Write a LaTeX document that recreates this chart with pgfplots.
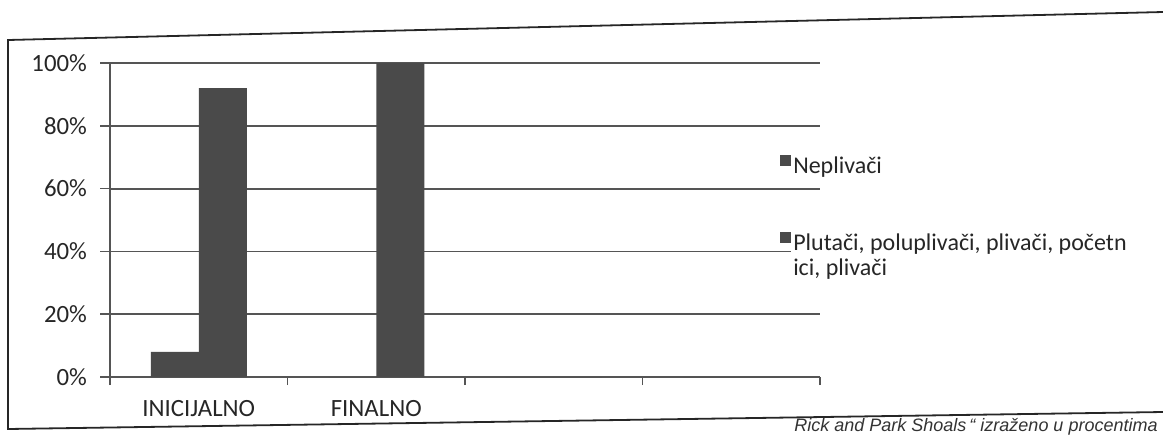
\documentclass[border=0pt]{standalone}
\usepackage{pgfplots}
\pgfplotsset{compat=1.18}
\usepackage{fontspec}
\setmainfont{Carlito}
\newfontfamily\capfont{Liberation Sans}
\definecolor{barc}{HTML}{4A4A4A}
\definecolor{gridc}{HTML}{555555}
\begin{document}
\begin{tikzpicture}[x=1pt,y=1pt]
\useasboundingbox (0,0) rectangle (581.5,218);
% frame (scanned page is slightly tilted)
\draw[line width=0.9pt, black!85] (581.5,212) -- (4,198) -- (4,3.5) -- (581.5,12);
% caption fragment
\node[anchor=base east, font=\capfont\itshape\fontsize{9}{11}\selectfont, text=black!80, inner sep=0pt] at (579,2.3) {Rick and Park Shoals\,“ izraženo u procentima};
\begin{axis}[
  at={(55pt,29.5pt)}, anchor=south west,
  scale only axis, width=355pt, height=157pt,
  xmin=-0.5, xmax=3.5, ymin=0, ymax=100,
  ybar=0pt, bar width=24pt,
  axis x line*=bottom, axis y line*=left,
  axis line style={-, gridc, line width=0.8pt},
  xtick={0,1}, xticklabels={INICIJALNO,FINALNO},
  major x tick style={draw=none},
  minor xtick={-0.5,0.5,1.5,2.5,3.5},
  minor x tick style={gridc, line width=0.8pt},
  ytick={0,20,40,60,80,100},
  yticklabels={0\%,20\%,40\%,60\%,80\%,100\%},
  major y tick style={gridc, line width=0.8pt},
  tick align=outside,
  major tick length=5pt, minor tick length=4pt,
  ymajorgrids,
  grid style={gridc, line width=0.9pt},
  ticklabel style={font=\fontsize{12.4}{14}\selectfont, text=black!85},
  xticklabel style={yshift=-3pt},
  yticklabel style={xshift=-3pt},
  legend style={at={(rel axis cs:0.935,0.723)}, anchor=north west, draw=none, fill=none,
    font=\fontsize{12}{13.5}\selectfont, text=black!85,
    nodes={inner sep=1pt, fill=white}, row sep=26pt},
  legend cell align=left,
  legend image code/.code={\path[#1, draw=none] (0pt,0pt) rectangle (5.5pt,5.5pt);},
  clip=false
]
\addplot[fill=barc, draw=none] coordinates {(0,8) (1,0) (2,0) (3,0)};
\addplot[fill=barc, draw=none] coordinates {(0,92) (1,100) (2,0) (3,0)};
\legend{Neplivači, {\begin{tabular}[t]{@{}l@{}}Plutači, poluplivači, plivači, početn\\[-1pt]ici, plivači\end{tabular}}}
\end{axis}
\end{tikzpicture}
\end{document}
